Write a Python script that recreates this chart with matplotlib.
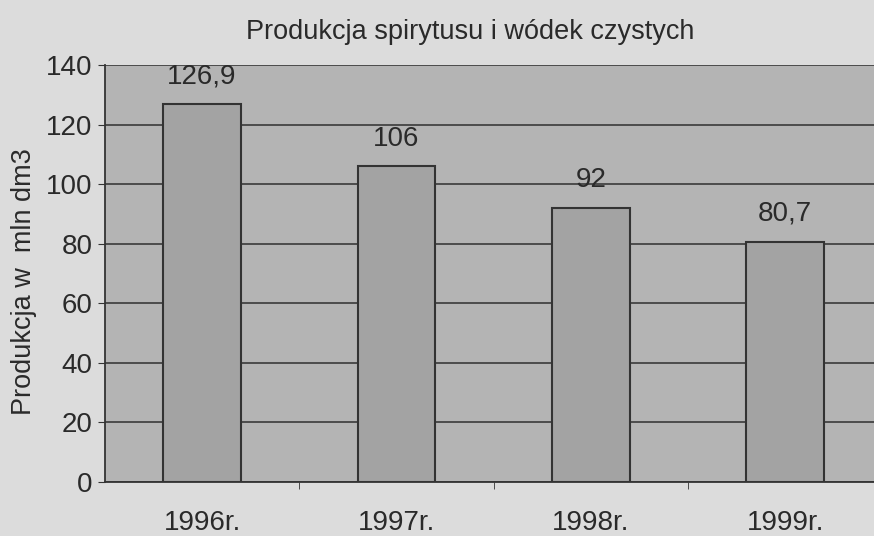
import numpy as np
import matplotlib.pyplot as plt

plt.rcParams['font.family'] = ['Liberation Sans', 'DejaVu Sans']

years = ['1996r.', '1997r.', '1998r.', '1999r.']
values = [126.9, 106, 92, 80.7]
value_labels = ['126,9', '106', '92', '80,7']

fig = plt.figure(figsize=(8.74, 5.36), dpi=100, facecolor='#dcdcdc')
ax = fig.add_axes([0.120, 0.1007, 0.885, 0.778])
ax.set_facecolor('#b4b4b4')

x = np.arange(len(years))
ax.bar(x, values, width=0.4, color='#a3a3a3', edgecolor='#333333', linewidth=1.5, zorder=3)

for xi, v, lab in zip(x, values, value_labels):
    ax.text(xi, v + 9.3, lab, ha='center', va='center', fontsize=20, color='#2a2a2a', zorder=4)

ax.set_ylim(0, 140)
ax.set_xlim(-0.5, 3.48)
ax.set_yticks(range(0, 141, 20))
ax.yaxis.grid(True, color='#3a3a3a', linewidth=1.2, zorder=1)
ax.set_axisbelow(True)

ax.set_xticks(x)
ax.set_xticklabels(years, fontsize=20, color='#2a2a2a')
ax.set_xticks(np.arange(0.5, 3.5, 1), minor=True)
ax.tick_params(axis='x', which='major', length=0, pad=20)
ax.tick_params(axis='x', which='minor', length=5, color='#333333')
ax.tick_params(axis='y', labelsize=20, labelcolor='#2a2a2a', length=5, color='#333333', pad=4)

for side in ['top', 'right']:
    ax.spines[side].set_visible(False)
ax.spines['left'].set_color('#333333')
ax.spines['bottom'].set_color('#333333')
ax.spines['left'].set_linewidth(1.3)
ax.spines['bottom'].set_linewidth(1.3)

ax.set_ylabel('Produkcja w  mln dm3', fontsize=19.5, color='#2a2a2a')
ax.yaxis.set_label_coords(-0.088, 0.48)
fig.text(0.538, 0.940, 'Produkcja spirytusu i wódek czystych', ha='center', va='center',
         fontsize=19.5, color='#2a2a2a')

fig.savefig('out.png', dpi=100, facecolor=fig.get_facecolor())
